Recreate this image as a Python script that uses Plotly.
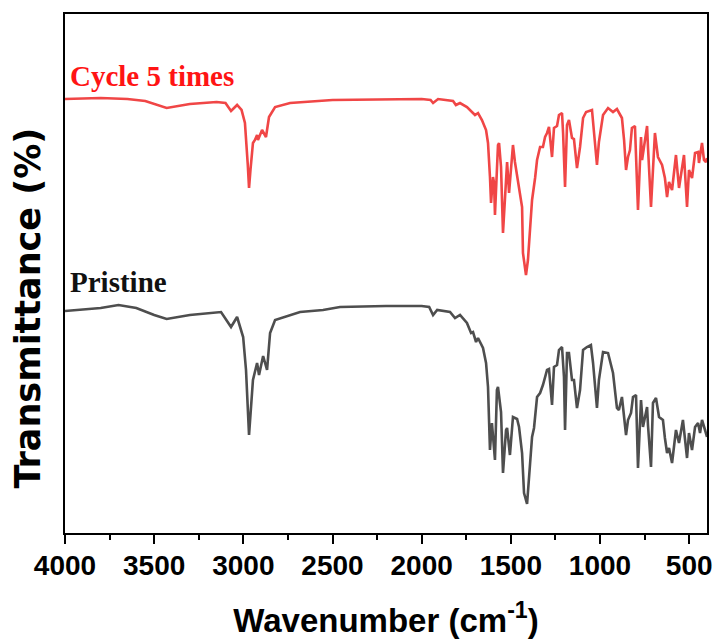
import plotly.graph_objects as go

# ---- data (wavenumber in cm^-1, transmittance in arbitrary offset units) ----
cycle_wn = [4000, 3800, 3650, 3550, 3430, 3300, 3150, 3100, 3069, 3035, 3010, 2991, 2975, 2968, 2960,
            2946, 2935, 2923, 2918, 2895, 2873, 2856, 2822, 2738, 2500, 2200, 2000, 1950, 1936, 1908,
            1824, 1808, 1785, 1746, 1723, 1701, 1684, 1662, 1639, 1628, 1617, 1611, 1600, 1594, 1589,
            1572, 1566, 1555, 1544, 1521, 1510, 1488, 1477, 1465, 1437, 1432, 1415, 1404, 1381, 1364,
            1353, 1336, 1320, 1308, 1297, 1286, 1269, 1258, 1241, 1230, 1213, 1207, 1196, 1185, 1174,
            1157, 1146, 1129, 1112, 1095, 1078, 1045, 1034, 1017, 1006, 983, 955, 927, 905, 877,
            865, 854, 843, 832, 821, 804, 787, 770, 764, 736, 731, 714, 692, 675, 652,
            636, 624, 613, 596, 574, 557, 529, 512, 501, 484, 467, 450, 445, 428, 417,
            406, 400]
cycle_T = [434, 435, 434, 432, 425, 429, 431, 430, 422, 428, 423, 410, 368, 345, 363,
           390, 393, 398, 393, 403, 396, 416, 426, 430, 433, 434, 434, 433, 430, 434,
           432, 428, 430, 426, 422, 418, 420, 413, 403, 390, 356, 330, 356, 350, 318,
           388, 390, 366, 300, 371, 340, 388, 371, 356, 326, 280, 258, 273, 333, 355,
           373, 386, 386, 396, 400, 406, 376, 405, 407, 418, 420, 400, 346, 408, 413,
           395, 394, 365, 386, 415, 421, 423, 400, 368, 391, 418, 425, 421, 424, 415,
           393, 363, 376, 383, 405, 407, 323, 396, 373, 407, 386, 326, 400, 376, 368,
           355, 336, 351, 343, 378, 345, 378, 326, 363, 355, 380, 381, 370, 390, 373,
           371, 375]

pristine_wn = [4000, 3800, 3700, 3600, 3500, 3430, 3300, 3200, 3125, 3069, 3035, 3001, 2985, 2968, 2946,
               2923, 2912, 2889, 2867, 2850, 2822, 2682, 2553, 2458, 2200, 2000, 1958, 1936, 1913, 1841,
               1813, 1785, 1746, 1723, 1712, 1695, 1684, 1656, 1639, 1628, 1617, 1606, 1600, 1589, 1578,
               1572, 1555, 1544, 1527, 1521, 1505, 1488, 1465, 1454, 1437, 1426, 1409, 1398, 1381, 1370,
               1353, 1336, 1320, 1297, 1286, 1269, 1258, 1241, 1230, 1213, 1202, 1196, 1185, 1174, 1157,
               1146, 1129, 1112, 1095, 1073, 1051, 1039, 1017, 1006, 983, 955, 927, 905, 894, 877,
               871, 854, 843, 826, 815, 798, 787, 770, 759, 736, 731, 714, 703, 686, 669,
               647, 636, 624, 613, 596, 574, 557, 535, 512, 501, 484, 467, 450, 439, 428,
               411, 400]
pristine_T = [222, 225, 228, 225, 218, 214, 218, 220, 221, 206, 216, 196, 163, 98, 153,
              170, 158, 177, 163, 200, 213, 221, 223, 226, 227, 227, 226, 218, 223, 221,
              215, 218, 210, 200, 201, 191, 195, 185, 170, 146, 83, 110, 96, 73, 143,
              146, 121, 60, 103, 105, 78, 116, 114, 106, 80, 40, 29, 53, 96, 105,
              136, 140, 148, 163, 164, 128, 166, 168, 183, 186, 156, 103, 180, 180, 153,
              153, 125, 143, 183, 186, 188, 170, 125, 153, 181, 180, 160, 125, 123, 136,
              126, 98, 113, 120, 136, 138, 65, 133, 106, 126, 108, 66, 130, 135, 116,
              113, 95, 80, 85, 70, 103, 90, 113, 75, 100, 83, 106, 110, 100, 113,
              103, 96]

x_ticks = [4000, 3500, 3000, 2500, 2000, 1500, 1000, 500]
labels = ["Cycle 5 times", "Pristine"]
x_title = "Wavenumber (cm<sup>-1</sup>)"
y_title = "Transmittance (%)"

fig = go.Figure()
fig.add_trace(go.Scatter(x=cycle_wn, y=cycle_T, mode="lines", name=labels[0],
                         line=dict(color="#F04646", width=2.6), showlegend=False))
fig.add_trace(go.Scatter(x=pristine_wn, y=pristine_T, mode="lines", name=labels[1],
                         line=dict(color="#4E4E4E", width=2.6), showlegend=False))

fig.add_annotation(text="<b>" + labels[0] + "</b>", xref="paper", yref="paper", x=0.005, y=0.88,
                   xanchor="left", yanchor="middle", showarrow=False,
                   font=dict(family="Liberation Serif", size=29, color="#FF1414"))
fig.add_annotation(text="<b>" + labels[1] + "</b>", xref="paper", yref="paper", x=0.005, y=0.484,
                   xanchor="left", yanchor="middle", showarrow=False,
                   font=dict(family="Liberation Serif", size=29, color="#111111"))
fig.add_annotation(text="<b>" + y_title + "</b>", xref="paper", yref="paper", x=-0.0576, y=0.4326,
                   xanchor="center", yanchor="middle", textangle=-90, showarrow=False,
                   font=dict(family="DejaVu Sans", size=35, color="black"))

fig.update_layout(
    width=719, height=641,
    margin=dict(l=65, r=12, t=14, b=108),
    plot_bgcolor="white", paper_bgcolor="white",
    xaxis=dict(range=[4000, 400], tickvals=x_ticks, ticks="outside", ticklen=9, tickwidth=2,
               tickcolor="black", showline=True, linecolor="black", linewidth=2, mirror=True,
               showgrid=False, zeroline=False, automargin=False, ticklabelstandoff=-3,
               tickfont=dict(family="Liberation Sans", size=28, color="black", weight="bold"),
               minor=dict(dtick=250, ticks="outside", ticklen=5, tickwidth=2, tickcolor="black"),
               title=dict(text=x_title, standoff=29,
                          font=dict(family="Liberation Sans", size=33, color="black", weight="bold"))),
    yaxis=dict(range=[0, 519], showticklabels=False, ticks="", showline=True, linecolor="black",
               linewidth=2, mirror=True, showgrid=False, zeroline=False, automargin=False),
)

fig.write_html("out.html")
